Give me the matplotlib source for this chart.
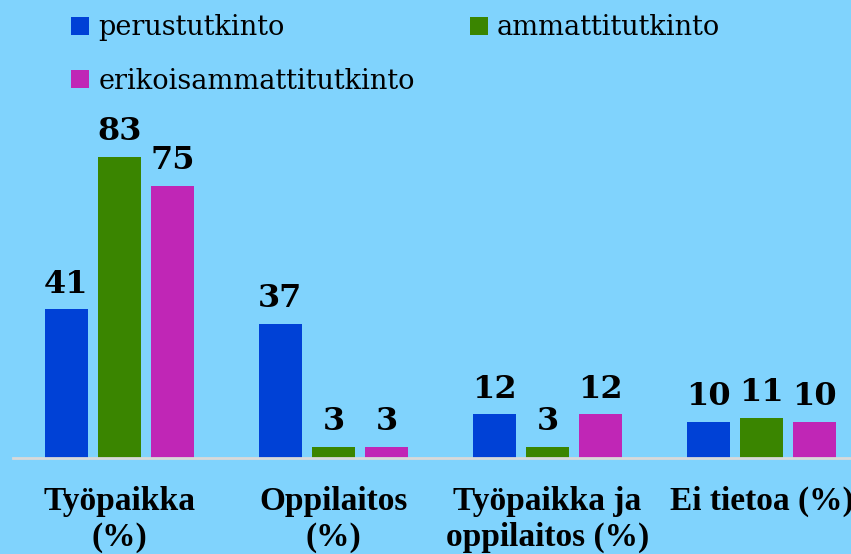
import matplotlib.pyplot as plt
import numpy as np

categories = ['Työpaikka\n(%)', 'Oppilaitos\n(%)', 'Työpaikka ja\noppilaitos (%)', 'Ei tietoa (%)']
series_names = ['perustutkinto', 'ammattitutkinto', 'erikoisammattitutkinto']
perustutkinto = [41, 37, 12, 10]
ammattitutkinto = [83, 3, 3, 11]
erikoisammattitutkinto = [75, 3, 12, 10]

colors = ['#0041d6', '#3a8500', '#c026b6']
bg = '#80d3fd'

fig = plt.figure(figsize=(8.51, 5.54), dpi=100, facecolor=bg)
ax = fig.add_axes([12.5 / 851, 96 / 554, 856 / 851, 362.7 / 554])
ax.set_facecolor(bg)

x = np.arange(len(categories))
w = 0.201
off = 0.2477
bars = []
for i, (vals, name) in enumerate(zip([perustutkinto, ammattitutkinto, erikoisammattitutkinto], series_names)):
    b = ax.bar(x + (i - 1) * off, vals, w, color=colors[i], label=name)
    ax.bar_label(b, padding=7, fontsize=23, fontweight='bold', family='DejaVu Serif')
    bars.append(b)

ax.set_xlim(-0.5, 3.5)
ax.set_ylim(0, 100)
ax.set_yticks([])
ax.set_xticks(x)
ax.set_xticklabels(categories, fontsize=24, fontweight='bold', family='Liberation Serif')
ax.tick_params(axis='x', length=0, pad=20)
for s in ['top', 'left', 'right']:
    ax.spines[s].set_visible(False)
ax.spines['bottom'].set_color('#d9d9d9')
ax.spines['bottom'].set_linewidth(2)

# column-wise fill: perus + erikois in col 1, ammatti in col 2
handles = [bars[0], bars[2], bars[1]]
labels = [series_names[0], series_names[2], series_names[1]]
fig.legend(handles, labels, loc='upper left', bbox_to_anchor=(47 / 851, 1 + 10 / 554), ncol=2,
           frameon=False, prop={'family': 'DejaVu Serif', 'size': 19.5},
           handlelength=0.64, handleheight=0.64, handletextpad=0.35,
           columnspacing=2.05, labelspacing=0.98)

fig.savefig('out.png', dpi=100, facecolor=bg)
